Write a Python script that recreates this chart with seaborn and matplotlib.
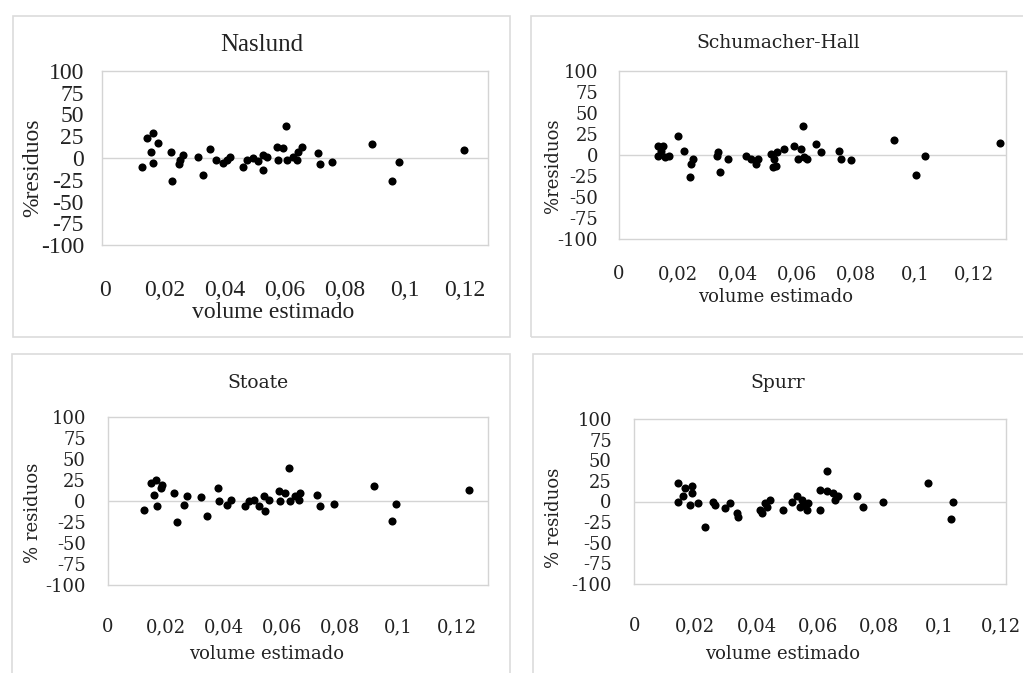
import matplotlib
matplotlib.use("Agg")
import matplotlib.pyplot as plt
import seaborn as sns
import numpy as np
from matplotlib.patches import Rectangle

# ---------------- data ----------------
titles = ["Naslund", "Schumacher-Hall", "Stoate", "Spurr"]
ylabels = ["%residuos", "%residuos", "% residuos", "% residuos"]
xlabel_text = "volume estimado"
xtick_values = [0, 0.02, 0.04, 0.06, 0.08, 0.10, 0.12]
xtick_labels = ["0", "0,02", "0,04", "0,06", "0,08", "0,1", "0,12"]
ytick_values = [100, 75, 50, 25, 0, -25, -50, -75, -100]

naslund_x = [0.0122, 0.0139, 0.0159, 0.0178, 0.0152, 0.0161, 0.0219, 0.0222, 0.0250, 0.0261,
             0.0248, 0.0311, 0.0328, 0.0350, 0.0370, 0.0406, 0.0394, 0.0417, 0.0461, 0.0472,
             0.0494, 0.0511, 0.0528, 0.0528, 0.0539, 0.0572, 0.0578, 0.0603, 0.0594, 0.0606,
             0.0628, 0.0639, 0.0656, 0.0644, 0.0711, 0.0717, 0.0758, 0.0891, 0.0981, 0.0956,
             0.1197]
naslund_y = [-10, 22.6, 28.4, 17, 7, -6, 7, -27, -2.3, 3.4,
             -7, 1.5, -19.5, 10, -2.3, -2.3, -6, 1.5, -10, -2.3,
             -0.4, -4, -14, 3.4, 1.5, 13, -2.3, 36.8, 11, -2.3,
             1.5, -2.3, 13, 7, 5.4, -7, -5, 15.7, -5, -26,
             9.2]

schumacher_x = [0.0131, 0.0148, 0.0131, 0.0154, 0.0142, 0.0170, 0.0199, 0.0221, 0.0249, 0.0243,
                0.0241, 0.0333, 0.0342, 0.0367, 0.0331, 0.0429, 0.0445, 0.0462, 0.0468, 0.0513,
                0.0524, 0.0530, 0.0519, 0.0535, 0.0558, 0.0591, 0.0603, 0.0620, 0.0625, 0.0636,
                0.0614, 0.0664, 0.0681, 0.0743, 0.0749, 0.0782, 0.0930, 0.1035, 0.1003, 0.1287]
schumacher_y = [11.3, 11.3, -0.6, -2.6, 5.3, -0.6, 23, 5.3, -4.5, -10.5,
                -26, 3.3, -20, -4.5, -0.6, -0.6, -4.5, -10.5, -4.5, 1.4,
                -4.5, -12.5, -14.5, 3.3, 7.4, 11.3, -4.5, 35, -2.6, -4.5,
                7.4, 13.3, 3.3, 5.3, -4.5, -6.5, 18.4, -0.6, -24.3, 14]

stoate_x = [0.0124, 0.0147, 0.0164, 0.0187, 0.0181, 0.0158, 0.0170, 0.0227, 0.0238, 0.0261,
            0.0273, 0.0319, 0.0342, 0.0378, 0.0381, 0.0410, 0.0422, 0.0473, 0.0485, 0.0502,
            0.0519, 0.0542, 0.0536, 0.0553, 0.0588, 0.0593, 0.0622, 0.0610, 0.0628, 0.0645,
            0.0662, 0.0656, 0.0720, 0.0731, 0.0779, 0.0914, 0.0992, 0.0977, 0.1244]
stoate_y = [-10.3, 21.4, 25.3, 19.4, 15.4, 7.5, -6.4, 9.5, -25.4, -4.4,
            5.5, 4.8, -18.3, 15.4, -0.5, -4.4, 0.7, -6.4, -0.5, 1.5,
            -6.4, -12.3, 5.5, 1.5, 11.4, -0.5, 39.2, 9.5, -0.5, 5.5,
            9.5, 1.5, 7.5, -6.4, -3.2, 17.3, -3.2, -23.4, 12.6]

spurr_x = [0.0144, 0.0166, 0.0188, 0.0144, 0.0160, 0.0182, 0.0188, 0.0210, 0.0231, 0.0259,
           0.0264, 0.0297, 0.0313, 0.0340, 0.0335, 0.0411, 0.0417, 0.0433, 0.0444, 0.0428,
           0.0488, 0.0515, 0.0532, 0.0548, 0.0553, 0.0564, 0.0542, 0.0570, 0.0608, 0.0608,
           0.0630, 0.0630, 0.0651, 0.0668, 0.0657, 0.0728, 0.0750, 0.0813, 0.0962, 0.1044,
           0.1037]
spurr_y = [22.7, 16.5, 18.5, 0, 6.2, -4.1, 10.3, -2, -30.8, 0,
           -4.1, -8.1, -2, -18.5, -13.5, -10.3, -14.3, -6.2, 2, -2,
           -10.3, 0, 6.2, 2, -4.1, -10.3, -6.2, -2, -10.3, 14.4,
           37, 12.3, 10.3, 6.2, 2, 6.2, -6.2, -1.2, 22.7, -1.2,
           -21.7]

series_x = [naslund_x, schumacher_x, stoate_x, spurr_x]
series_y = [naslund_y, schumacher_y, stoate_y, spurr_y]

# ---------------- layout (pixels) ----------------
W, H = 1023, 673
sns.set_style("white")
plt.rcParams["font.family"] = ["Liberation Serif", "DejaVu Serif"]

fig = plt.figure(figsize=(W / 100, H / 100), dpi=100)
fig.patch.set_facecolor("white")

def fx(px):
    return px / W

def fy(py):
    return 1 - py / H

# plot area boxes: left, right, top, bottom
plot_boxes = [(102, 488, 71, 245), (619, 1006, 71, 239), (108, 488, 417, 585), (634, 1006, 419, 584)]
xlims = [(-0.001, 0.1277), (0.0004, 0.1307), (0.0002, 0.1308), (-0.0001, 0.1217)]
chart_boxes = [(13, 510, 16, 337), (531, 1030, 16, 337), (12, 510, 354, 680), (533, 1030, 354, 680)]
fonts = [("Liberation Serif", 17), ("DejaVu Serif", 13), ("DejaVu Serif", 13), ("DejaVu Serif", 13)]
title_pos = [(262, 45), (778, 43), (258, 383), (778, 383)]
xlabel_pos = [(273, 312), (776, 297), (267, 654), (783, 654)]
ylabel_pos = [(33, 168), (553, 166), (33, 513), (554, 518)]
xpad = [25, 19, 24, 24]
ypad = [13, 15, 16, 16]

grey = "#d4d4d4"
for i in range(4):
    cl, cr, ct, cb = chart_boxes[i]
    fig.add_artist(Rectangle((fx(cl), fy(cb)), fx(cr) - fx(cl), fy(ct) - fy(cb),
                             transform=fig.transFigure, fill=False, edgecolor="#dcdcdc", lw=1.2))
    l, r, t, b = plot_boxes[i]
    ax = fig.add_axes([fx(l), fy(b), fx(r) - fx(l), fy(t) - fy(b)])
    ax.set_facecolor("white")
    ax.axhline(0, color=grey, lw=1, zorder=0)
    sns.scatterplot(x=series_x[i], y=series_y[i], ax=ax, color="black", s=34,
                    linewidth=0, zorder=3, legend=False)
    ax.set_xlim(*xlims[i])
    ax.set_ylim(-100, 100)
    fam, fs = fonts[i]
    ax.set_xticks(xtick_values)
    ax.set_xticklabels(xtick_labels, family=fam, fontsize=fs)
    ax.set_yticks(ytick_values)
    ax.set_yticklabels([str(v) for v in ytick_values], family=fam, fontsize=fs)
    ax.tick_params(axis="x", length=0, pad=xpad[i], colors="#222222")
    ax.tick_params(axis="y", length=0, pad=ypad[i], colors="#222222")
    for sp in ax.spines.values():
        sp.set_color(grey)
        sp.set_linewidth(1)
    ax.set_xlabel("")
    ax.set_ylabel("")
    tx, ty = title_pos[i]
    fig.text(fx(tx), fy(ty), titles[i], family=fam, fontsize=fs + (1 if i == 0 else 0.5),
             ha="center", va="center", color="#222222")
    lx, ly = xlabel_pos[i]
    fig.text(fx(lx), fy(ly), xlabel_text, family=fam, fontsize=fs,
             ha="center", va="center", color="#222222")
    yx, yy = ylabel_pos[i]
    fig.text(fx(yx), fy(yy), ylabels[i], family=fam, fontsize=fs, rotation=90,
             ha="center", va="center", color="#222222")

fig.savefig("out.png", dpi=100, facecolor="white")
